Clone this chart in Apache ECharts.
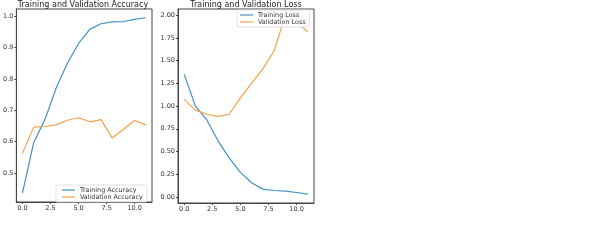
<!DOCTYPE html>
<html><head><meta charset="utf-8">
<script src="https://cdn.jsdelivr.net/npm/echarts@6/dist/echarts.min.js"></script>
<style>html,body{margin:0;padding:0;background:#fff}#c{width:600px;height:249px}</style>
</head><body><div id="c"></div>
<script>
const epochs = [0,1,2,3,4,5,6,7,8,9,10,11];
const trainAcc = [0.436,0.597,0.670,0.771,0.850,0.913,0.958,0.976,0.982,0.983,0.990,0.995];
const valAcc   = [0.563,0.646,0.648,0.653,0.668,0.676,0.663,0.670,0.611,0.639,0.667,0.653];
const trainLoss = [1.35,1.00,0.85,0.62,0.43,0.27,0.155,0.085,0.07,0.063,0.048,0.03];
const valLoss   = [1.074,0.956,0.91,0.886,0.91,1.09,1.254,1.41,1.61,2.00,1.92,1.82];
const xTicks = [0,2.5,5,7.5,10];
const accTicks = [0.5,0.6,0.7,0.8,0.9,1.0];
const lossTicks = [0,0.25,0.5,0.75,1.0,1.25,1.5,1.75,2.0];

const FONT = 'DejaVu Sans';
const BLUE = '#4290c6', ORANGE = '#f3a24f';
const pair = a => epochs.map((e,i)=>[e,a[i]]);

function xAxis(gi){
  return {type:'value', gridIndex:gi, min:-0.55, max:11.55,
    axisLine:{show:true,onZero:false,lineStyle:{color:'#444',width:1}},
    axisTick:{show:true,length:2,customValues:xTicks,lineStyle:{color:'#444'}},
    axisLabel:{customValues:xTicks,fontSize:6.5,fontFamily:FONT,color:'#333',margin:3,
      formatter:v=>v.toFixed(1)},
    splitLine:{show:false}};
}
function yAxis(gi,min,max,ticks,dec){
  return {type:'value', gridIndex:gi, min:min, max:max,
    axisLine:{show:true,onZero:false,lineStyle:{color:'#444',width:1}},
    axisTick:{show:true,length:2,customValues:ticks,lineStyle:{color:'#444'}},
    axisLabel:{customValues:ticks,fontSize:6.5,fontFamily:FONT,color:'#333',margin:3,
      formatter:v=>v.toFixed(dec)},
    splitLine:{show:false}};
}
const legendCommon = {orient:'vertical', backgroundColor:'rgba(255,255,255,0.85)',
  borderColor:'#d8d8d8', borderWidth:0.8, borderRadius:1, icon:'rect',
  itemWidth:13, itemHeight:1.2, itemGap:1,
  textStyle:{fontSize:6.4,fontFamily:FONT,color:'#333',lineHeight:6}};

const chart = echarts.init(document.getElementById('c'),null,{renderer:'canvas'});
chart.setOption({
  animation:false,
  title:[
    {text:'Training and Validation Accuracy',left:83,top:1,padding:0,textAlign:'center',
     textStyle:{fontSize:8,fontWeight:'normal',fontFamily:FONT,color:'#222'}},
    {text:'Training and Validation Loss',left:246,top:1,padding:0,textAlign:'center',
     textStyle:{fontSize:8,fontWeight:'normal',fontFamily:FONT,color:'#222'}}
  ],
  grid:[
    {left:15,top:9,width:137,height:193,show:true,borderColor:'#444',borderWidth:1,containLabel:false},
    {left:178,top:9,width:136,height:194,show:true,borderColor:'#444',borderWidth:1,containLabel:false}
  ],
  xAxis:[xAxis(0),xAxis(1)],
  yAxis:[yAxis(0,0.407,1.023,accTicks,1), yAxis(1,-0.068,2.07,lossTicks,2)],
  legend:[
    Object.assign({},legendCommon,{data:['Training Accuracy','Validation Accuracy'],left:56,top:185,padding:[2,4,2,6]}),
    Object.assign({},legendCommon,{data:['Training Loss','Validation Loss'],left:237,top:10,padding:[2,4,2,3]})
  ],
  series:[
    {name:'Training Accuracy',type:'line',xAxisIndex:0,yAxisIndex:0,data:pair(trainAcc),showSymbol:false,symbol:'none',color:BLUE,lineStyle:{width:1.2}},
    {name:'Validation Accuracy',type:'line',xAxisIndex:0,yAxisIndex:0,data:pair(valAcc),showSymbol:false,symbol:'none',color:ORANGE,lineStyle:{width:1.2}},
    {name:'Training Loss',type:'line',xAxisIndex:1,yAxisIndex:1,data:pair(trainLoss),showSymbol:false,symbol:'none',color:BLUE,lineStyle:{width:1.2}},
    {name:'Validation Loss',type:'line',xAxisIndex:1,yAxisIndex:1,data:pair(valLoss),showSymbol:false,symbol:'none',color:ORANGE,lineStyle:{width:1.2}}
  ]
});
</script></body></html>
